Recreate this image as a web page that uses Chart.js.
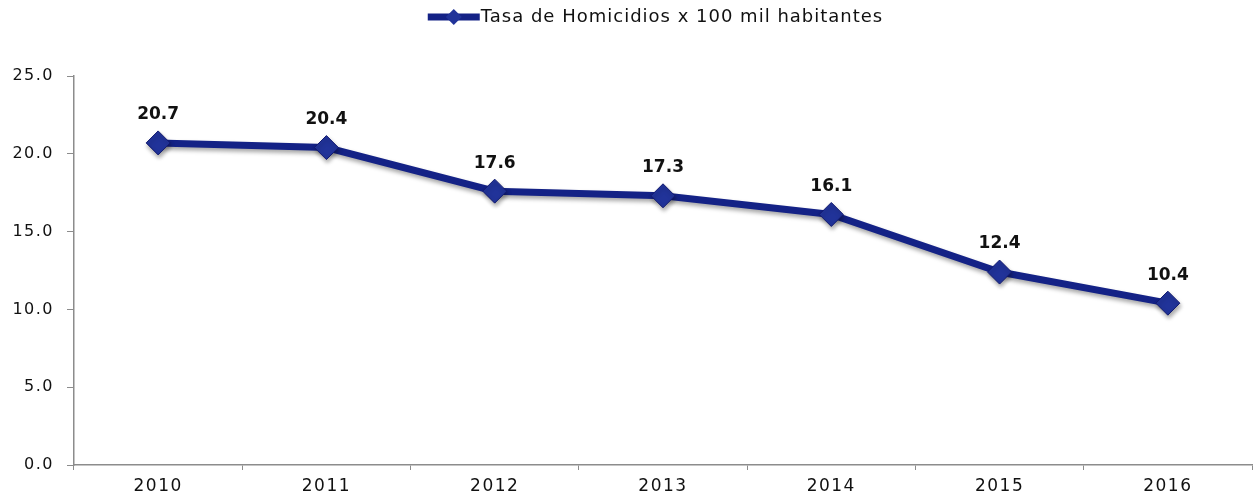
<!DOCTYPE html>
<html>
<head>
<meta charset="utf-8">
<script src="https://cdn.jsdelivr.net/npm/chart.js@4/dist/chart.umd.min.js"></script>
<style>
	html, body { margin: 0; padding: 0; background: #fff; }
	#wrap { width: 1257px; height: 498px; }
</style>
</head>
<body>
<div id="wrap"><canvas id="chartLine"></canvas></div>
<script>
var anios = ['2010', '2011', '2012', '2013', '2014', '2015', '2016'];
var tasa = [20.7, 20.4, 17.6, 17.3, 16.1, 12.4, 10.4];
var serieNombre = 'Tasa de Homicidios x 100 mil habitantes';
var yMin = 0, yMax = 25, yPaso = 5;

var azul = '#142286';
var azulMarca = '#213399';
var gris = '#8c8c8c';
var fuente = "'DejaVu Sans', 'Liberation Sans', Arial, sans-serif";

// espaciado de letras para las etiquetas de ejes
var espaciado = {
	id: 'espaciado',
	beforeDraw: (chart)=>{
		chart.ctx.letterSpacing = '1.5px';
	}
};

// etiquetas de valor sobre cada punto
var etiquetas = {
	id: 'etiquetas',
	afterDatasetsDraw: (chart)=>{
		var ctx = chart.ctx;
		var meta = chart.getDatasetMeta(0);
		ctx.save();
		ctx.letterSpacing = '0px';
		ctx.font = 'bold 17px ' + fuente;
		ctx.fillStyle = '#111';
		ctx.textAlign = 'center';
		ctx.textBaseline = 'middle';
		meta.data.forEach((p, i)=>{
			ctx.fillText(tasa[i].toFixed(1), p.x, p.y - 28);
		});
		ctx.restore();
	}
};

// sombra de la serie
var sombra = {
	id: 'sombra',
	beforeDatasetsDraw: (chart)=>{
		var ctx = chart.ctx;
		ctx.save();
		ctx.shadowColor = 'rgba(0,0,0,0.35)';
		ctx.shadowBlur = 4;
		ctx.shadowOffsetX = 1;
		ctx.shadowOffsetY = 3;
	},
	afterDatasetsDraw: (chart)=>{
		chart.ctx.restore();
	}
};

// leyenda con linea y rombo
var leyenda = {
	id: 'leyenda',
	afterDraw: (chart)=>{
		var ctx = chart.ctx;
		ctx.save();
		ctx.letterSpacing = '1px';
		ctx.font = '18px ' + fuente;
		var w = ctx.measureText(serieNombre).width;
		var largo = 52;
		var cx = (chart.chartArea.left + chart.chartArea.right) / 2 - 8;
		var x0 = cx - (largo + w) / 2;
		var y = 17;
		ctx.strokeStyle = azul;
		ctx.lineWidth = 7;
		ctx.beginPath();
		ctx.moveTo(x0, y);
		ctx.lineTo(x0 + largo, y);
		ctx.stroke();
		var mx = x0 + largo / 2, r = 8;
		ctx.fillStyle = azulMarca;
		ctx.beginPath();
		ctx.moveTo(mx - r, y);
		ctx.lineTo(mx, y - r);
		ctx.lineTo(mx + r, y);
		ctx.lineTo(mx, y + r);
		ctx.closePath();
		ctx.fill();
		ctx.fillStyle = '#111';
		ctx.textAlign = 'left';
		ctx.textBaseline = 'middle';
		ctx.fillText(serieNombre, x0 + largo + 1, y);
		ctx.restore();
	}
};

var Line = document.getElementById('chartLine').getContext('2d');
var chart = new Chart(Line, {
	type: 'line',
	data: {
		labels: anios,
		datasets: [{
			label: serieNombre,
			data: tasa,
			borderColor: azul,
			borderWidth: 7,
			tension: 0,
			pointStyle: 'rectRot',
			pointRadius: 12,
			pointHoverRadius: 12,
			pointBackgroundColor: azulMarca,
			pointBorderColor: '#121a70',
			pointBorderWidth: 1
		}]
	},
	options: {
		responsive: true,
		maintainAspectRatio: false,
		animation: false,
		events: [],
		layout: { autoPadding: false, padding: { top: 76, right: 5, left: 0, bottom: 0 } },
		plugins: {
			legend: { display: false },
			tooltip: { enabled: false }
		},
		scales: {
			x: {
				offset: true,
				afterFit: (s)=>{ s.height = 33; },
				grid: { offset: true, drawOnChartArea: false, tickLength: 5, color: gris, tickColor: gris },
				border: { color: gris, width: 1.5 },
				ticks: { color: '#111', font: { family: fuente, size: 17 }, padding: 6, maxRotation: 0 }
			},
			y: {
				min: yMin,
				max: yMax,
				afterFit: (s)=>{ s.width = 74; },
				grid: { drawOnChartArea: false, tickLength: 7, color: gris, tickColor: gris },
				border: { color: gris, width: 1.5 },
				ticks: {
					stepSize: yPaso,
					color: '#111',
					padding: 13,
					font: { family: fuente, size: 16 },
					callback: (v)=> Number(v).toFixed(1)
				}
			}
		}
	},
	plugins: [espaciado, sombra, etiquetas, leyenda]
});
</script>
</body>
</html>
